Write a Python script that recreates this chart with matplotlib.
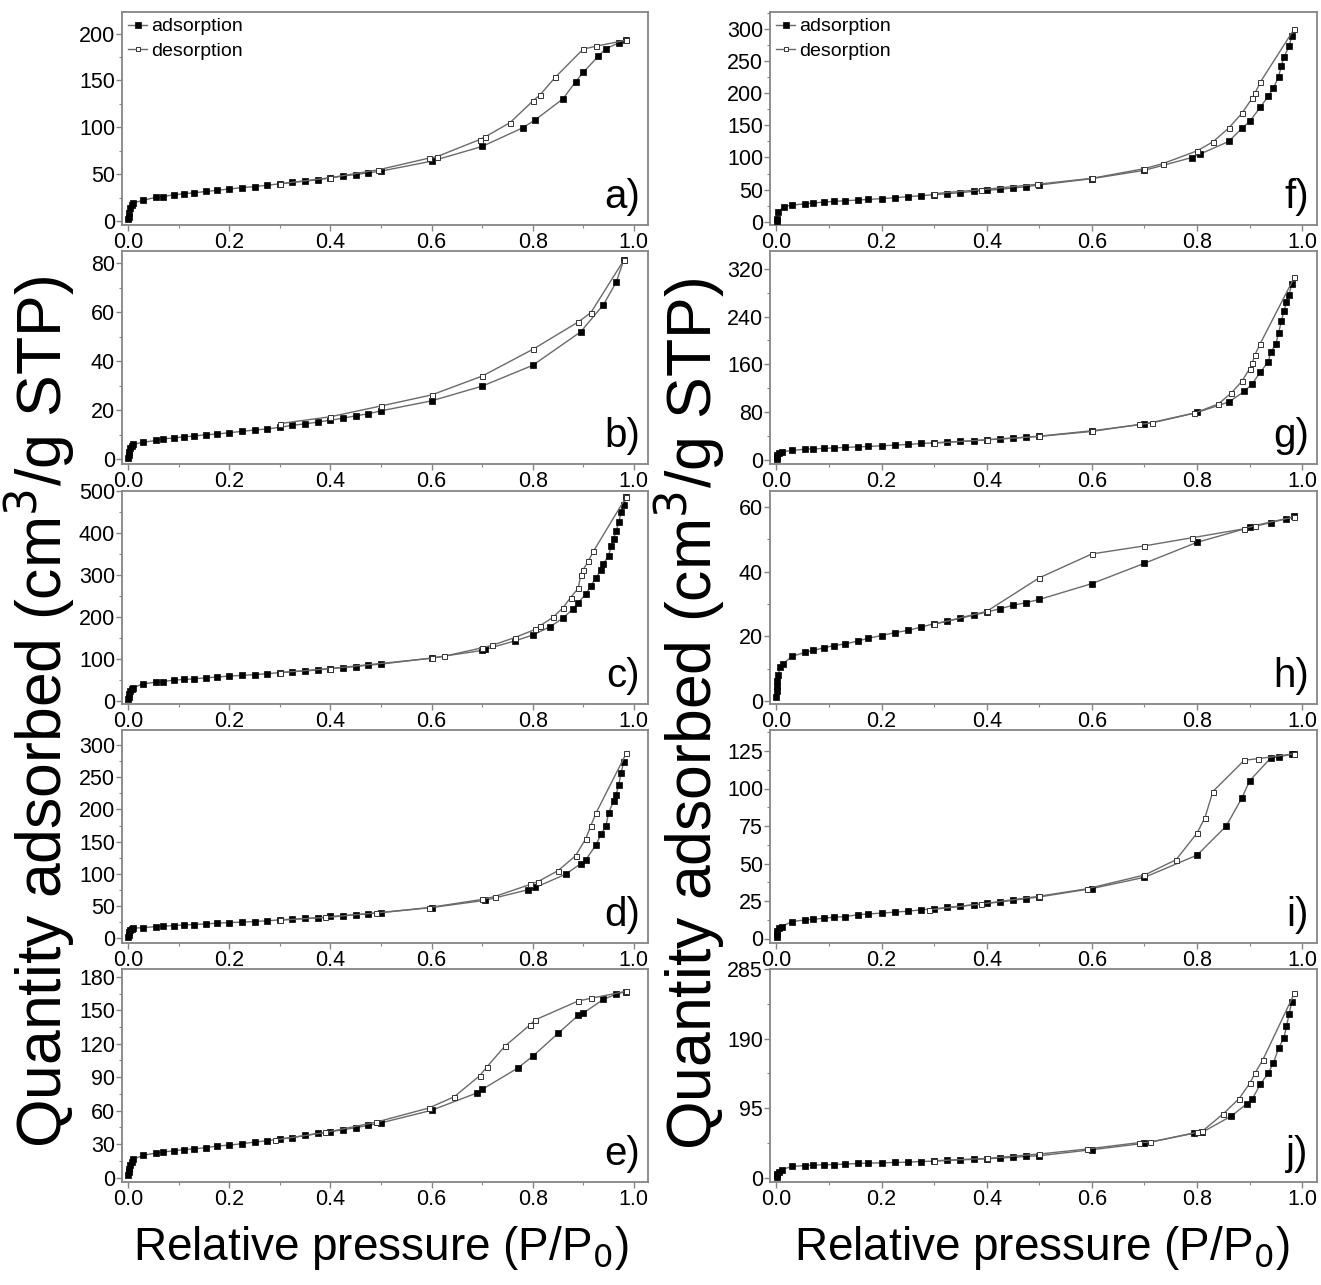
import numpy as np
import matplotlib
matplotlib.use("Agg")
import matplotlib.pyplot as plt
from matplotlib.ticker import MultipleLocator, AutoMinorLocator

plt.rcParams['font.family'] = ['Liberation Sans', 'DejaVu Sans']

# common relative pressure points of the adsorption branch (0.03 .. 0.5)
p_mid = [0.03, 0.055, 0.07, 0.09, 0.11, 0.13, 0.155, 0.175, 0.2, 0.225, 0.25, 0.275,
         0.3, 0.325, 0.35, 0.375, 0.4, 0.425, 0.45, 0.475, 0.5]
p_low = [0.0005, 0.001, 0.002, 0.004, 0.007, 0.01]

# ---- panel a
a_ads_p = p_low + p_mid + [0.6, 0.7, 0.78, 0.805, 0.86, 0.885, 0.9, 0.93, 0.945, 0.97, 0.985]
a_ads_q = [2, 5, 9, 14, 17.5, 19.5,
           22.3, 25.6, 26.3, 28.2, 29.3, 30.3, 31.8, 32.9, 34.4, 35.8, 36.9, 38.4,
           39.9, 41.3, 42.8, 44.2, 46.1, 48.3, 49.7, 51.6, 53.4,
           64, 79.7, 99.5, 108, 130.5, 148.8, 158.7, 176, 184, 190, 193]
a_des_p = [0.985, 0.925, 0.9, 0.845, 0.815, 0.8, 0.755, 0.705, 0.695, 0.61, 0.595, 0.495, 0.4, 0.3]
a_des_q = [193, 186.5, 183.5, 153.6, 135, 128, 105, 89.6, 87, 68.7, 67.3, 54.8, 46.4, 39.9]

# ---- panel b
b_ads_p = p_low + p_mid + [0.6, 0.7, 0.8, 0.895, 0.94, 0.965, 0.98]
b_ads_q = [0.5, 1.5, 3, 4.5, 5.5, 6,
           6.9, 7.6, 8.3, 8.6, 9.1, 9.4, 10, 10.2, 10.8, 11.3, 11.9, 12.3,
           13, 13.8, 14.4, 15.1, 15.9, 16.7, 17.7, 18.5, 19.7,
           23.8, 29.8, 38.3, 52, 63.1, 72.2, 81.2]
b_des_p = [0.98, 0.915, 0.89, 0.8, 0.7, 0.6, 0.5, 0.4, 0.3]
b_des_q = [81.2, 59.8, 56, 44.8, 33.9, 26.2, 21.7, 17.3, 14.5]

# ---- panel c
c_ads_p = p_low + p_mid + [0.6, 0.7, 0.705, 0.765, 0.8, 0.835, 0.86, 0.88, 0.89, 0.905, 0.915,
                           0.925, 0.935, 0.94, 0.95, 0.955, 0.96, 0.965, 0.97, 0.975, 0.98, 0.985]
c_ads_q = [3, 8, 15, 22, 28, 31,
           40, 44, 45.6, 48.9, 50.5, 52, 54.6, 56.2, 58.6, 60.3, 61.9, 64.3,
           66.8, 69.2, 70.8, 73.3, 76.5, 79, 81.4, 84.7, 87.1,
           101.8, 119.7, 122, 142.5, 156.4, 176.7, 197, 219, 233.7, 254, 274,
           293, 311, 327, 345, 368, 386, 405, 425, 450, 467, 486]
c_des_p = [0.985, 0.92, 0.91, 0.9, 0.895, 0.89, 0.875, 0.86, 0.84, 0.815, 0.805, 0.765,
           0.72, 0.7, 0.625, 0.6, 0.4, 0.3]
c_des_q = [486, 356, 333, 312.7, 299, 268, 246, 221.5, 198.7, 179, 170, 150.6,
           132, 126, 105.9, 101, 76.5, 66.8]

# ---- panel d
d_ads_p = p_low + p_mid + [0.6, 0.705, 0.79, 0.805, 0.865, 0.895, 0.905, 0.925, 0.935, 0.945,
                           0.95, 0.96, 0.965, 0.97, 0.975, 0.98]
d_ads_q = [2, 6, 10, 13, 15, 16,
           16.8, 18.4, 19, 20, 21, 21.6, 22.6, 23.7, 24.7, 25.3, 26.3, 27.4,
           28.9, 30, 31, 32, 34.2, 35.3, 36.8, 38.4, 40,
           47.9, 59, 75.3, 79, 99.5, 115.8, 122, 144.7, 161.6, 174.7,
           194.7, 212.6, 223, 238, 257, 273.7]
d_des_p = [0.985, 0.925, 0.915, 0.905, 0.885, 0.85, 0.81, 0.795, 0.725, 0.7, 0.595, 0.49, 0.39, 0.3]
d_des_q = [286.8, 194, 174.7, 154.7, 128.4, 105, 88, 83.7, 65, 60.5, 47.9, 39.5, 32.6, 28.4]

# ---- panel e
e_ads_p = p_low + p_mid + [0.6, 0.69, 0.7, 0.77, 0.8, 0.85, 0.89, 0.9, 0.94, 0.965, 0.985]
e_ads_q = [2, 5, 8, 11, 14, 16.5,
           19.9, 22, 23, 23.9, 25.1, 25.7, 26.9, 28.2, 29.1, 30.3, 31.8, 33,
           34.6, 35.8, 37.7, 39.5, 41, 42.9, 44.7, 46.8, 49,
           60.3, 75.9, 79, 98, 108.7, 129.2, 145.4, 147.5, 159.8, 164.4, 166.8]
e_des_p = [0.985, 0.915, 0.89, 0.805, 0.795, 0.745, 0.71, 0.695, 0.645, 0.595, 0.49, 0.39, 0.29]
e_des_q = [167, 160.7, 158.3, 141.4, 137, 117.8, 99.5, 91.2, 72.5, 62.4, 49.6, 40.4, 33.7]

# ---- panel f
f_ads_p = [0.0005, 0.001, 0.003, 0.015] + p_mid + [0.6, 0.7, 0.79, 0.805, 0.86, 0.885, 0.9, 0.92,
                                                    0.935, 0.945, 0.955, 0.96, 0.965, 0.975, 0.98]
f_ads_q = [1, 5, 15, 23.5,
           26, 28, 29.1, 30.7, 31.7, 32.7, 33.8, 34.8, 35.9, 37.4, 39, 40.5,
           42.1, 43.7, 45.2, 47.3, 48.9, 50.4, 52.5, 54.6, 57.2,
           67, 80, 99.8, 105, 124.8, 145, 156, 177.8,
           195, 207.4, 225.6, 241.7, 255.7, 272.9, 288.5]
f_des_p = [0.985, 0.92, 0.91, 0.905, 0.885, 0.86, 0.83, 0.8, 0.735, 0.7, 0.6, 0.495, 0.39, 0.3]
f_des_q = [300, 216.7, 199.6, 192.3, 168.4, 145.5, 124.2, 110.2, 90.4, 82.6, 67.6, 58.2, 49.9, 43.7]

# ---- panel g
g_ads_p = [0.0005, 0.001, 0.002, 0.005, 0.01] + p_mid + [0.6, 0.7, 0.8, 0.86, 0.89, 0.905, 0.92,
                                                         0.935, 0.94, 0.95, 0.955, 0.96, 0.965,
                                                         0.97, 0.975, 0.98]
g_ads_q = [1, 4, 8, 11, 13.5,
           15.7, 17.9, 18.5, 19, 20.1, 20.7, 21.8, 22.4, 23.5, 24.6, 25.7, 27.4,
           28.5, 29.7, 30.8, 31.9, 33.6, 35.2, 36.4, 38, 39.7,
           48.7, 59.9, 79.4, 96.8, 114.7, 127.6, 146.6,
           164, 180, 194.7, 212.6, 232, 249, 264, 277, 294.8]
g_des_p = [0.985, 0.92, 0.91, 0.905, 0.9, 0.885, 0.865, 0.84, 0.795, 0.715, 0.69, 0.6, 0.5, 0.4, 0.3]
g_des_q = [306, 194.7, 176, 162, 152.7, 131.5, 111.9, 93.4, 78.3, 62, 59.3, 47.6, 39.2, 33.6, 28]

# ---- panel h
h_ads_p = [0.0002, 0.0005, 0.001, 0.002, 0.004, 0.007, 0.012] + p_mid + [0.6, 0.7, 0.8, 0.9,
                                                                       0.94, 0.97, 0.985]
h_ads_q = [1.3, 3, 4.7, 6.2, 8, 10.4, 11.3,
           13.8, 15, 15.6, 16.4, 17.1, 17.6, 18.5, 19.4, 20.2, 21.1, 21.8, 22.8,
           23.9, 24.6, 25.6, 26.5, 27.5, 28.5, 29.6, 30.4, 31.4,
           36.3, 42.6, 49.1, 53.7, 55.2, 56.4, 57.1]
h_des_p = [0.985, 0.91, 0.89, 0.79, 0.7, 0.6, 0.5, 0.4, 0.3]
h_des_q = [57, 54.3, 53.3, 50.5, 48, 45.5, 38.1, 27.7, 23.7]

# ---- panel i
i_ads_p = [0.0005, 0.001, 0.002, 0.005, 0.01] + p_mid + [0.6, 0.7, 0.8, 0.855, 0.885, 0.9,
                                                         0.94, 0.955, 0.98, 0.985]
i_ads_q = [1, 3, 5, 7, 8,
           11.3, 12.4, 12.8, 13.5, 14.2, 14.6, 15.8, 16.4, 16.9, 17.6, 18.2, 19.1,
           19.8, 20.7, 21.6, 22.5, 23.4, 24.3, 25.5, 26.6, 27.7,
           33.3, 40.8, 55.6, 74.8, 93.5, 105.2, 120.3, 121.2, 122.7, 123.2]
i_des_p = [0.985, 0.915, 0.89, 0.83, 0.815, 0.8, 0.76, 0.7, 0.59, 0.5, 0.39, 0.29]
i_des_q = [123.2, 119.8, 118.9, 98, 80.6, 70.3, 52.5, 42.3, 33.1, 28.2, 23, 19.1]

# ---- panel j
j_ads_p = [0.0005, 0.001, 0.002, 0.005, 0.01] + p_mid + [0.6, 0.7, 0.795, 0.81, 0.865, 0.895,
                                                         0.905, 0.92, 0.935, 0.945, 0.955,
                                                         0.965, 0.97, 0.975, 0.98]
j_ads_q = [1, 3, 5.5, 8, 11,
           15.2, 16.5, 17, 17.5, 17.9, 18.4, 19.3, 19.8, 20.2, 20.7, 21.1, 22,
           22.5, 23.4, 24.4, 24.8, 25.7, 26.7, 27.6, 29, 29.9,
           38.1, 46.9, 60.7, 62, 84.1, 101, 107.5, 127.3, 142.5, 156.3, 177,
           190.7, 206.8, 223.8, 240.3]
j_des_p = [0.985, 0.925, 0.91, 0.9, 0.88, 0.85, 0.81, 0.8, 0.71, 0.69, 0.59, 0.5, 0.4, 0.3]
j_des_q = [251.8, 160.8, 142.5, 128.7, 108, 87.3, 63.4, 62, 48.3, 47.8, 39, 32.2, 26.2, 23]

panels = [
    # label, ads, des, ylim, major step, column, row
    ('a)', a_ads_p, a_ads_q, a_des_p, a_des_q, (-4, 223), 50, 0, 0),
    ('b)', b_ads_p, b_ads_q, b_des_p, b_des_q, (-2, 85), 20, 0, 1),
    ('c)', c_ads_p, c_ads_q, c_des_p, c_des_q, (-8, 500), 100, 0, 2),
    ('d)', d_ads_p, d_ads_q, d_des_p, d_des_q, (-7, 323), 50, 0, 3),
    ('e)', e_ads_p, e_ads_q, e_des_p, e_des_q, (-4, 187), 30, 0, 4),
    ('f)', f_ads_p, f_ads_q, f_des_p, f_des_q, (-5, 326), 50, 1, 0),
    ('g)', g_ads_p, g_ads_q, g_des_p, g_des_q, (-7, 350), 80, 1, 1),
    ('h)', h_ads_p, h_ads_q, h_des_p, h_des_q, (-1, 65), 20, 1, 2),
    ('i)', i_ads_p, i_ads_q, i_des_p, i_des_q, (-3, 139), 25, 1, 3),
    ('j)', j_ads_p, j_ads_q, j_des_p, j_des_q, (-6, 285), 95, 1, 4),
]

W, H = 1321, 1285
fig = plt.figure(figsize=(W / 100, H / 100), dpi=100)

col_left = [122, 770]
col_width = [526, 547]
row_top = [12, 251, 491, 730, 969]
row_h = 213
frame_col = '#858585'
line_col = '#6a6a6a'

for lab, ap, aq, dp, dq, ylim, step, col, row in panels:
    ax = fig.add_axes([col_left[col] / W, 1 - (row_top[row] + row_h) / H,
                       col_width[col] / W, row_h / H])
    ax.plot(ap, aq, '-', color=line_col, lw=1.0, marker='s', ms=4.2,
            mfc='black', mec='black', mew=0.5, label='adsorption', zorder=3)
    ax.plot(dp, dq, '-', color=line_col, lw=1.0, marker='s', ms=3.6,
            mfc='white', mec='#333333', mew=0.7, label='desorption', zorder=4)
    ax.set_xlim(-0.012, 1.028)
    ax.set_ylim(*ylim)
    ax.xaxis.set_major_locator(MultipleLocator(0.2))
    ax.xaxis.set_minor_locator(MultipleLocator(0.1))
    ax.yaxis.set_major_locator(MultipleLocator(step))
    ax.yaxis.set_minor_locator(AutoMinorLocator(2))
    ax.xaxis.set_major_formatter(matplotlib.ticker.FormatStrFormatter('%.1f'))
    ax.tick_params(which='major', direction='out', length=4, width=1, color=frame_col,
                   labelsize=15.5, pad=1)
    ax.tick_params(which='minor', direction='out', length=2.5, width=0.8, color=frame_col)
    for sp in ax.spines.values():
        sp.set_color(frame_col)
        sp.set_linewidth(1.3)
    ax.text(0.985, 0.04, lab, transform=ax.transAxes, ha='right', va='bottom', fontsize=29)
    if row == 0:
        ax.legend(loc='upper left', frameon=False, fontsize=14, handlelength=1.0,
                  handletextpad=0.2, borderaxespad=0.1, borderpad=0.2, labelspacing=0.35,
                  markerscale=0.9)

ylab = 'Quantity adsorbed (cm$^3$/g STP)'
fig.text(40 / W, 1 - 712 / H, ylab, rotation=90, ha='center', va='center', fontsize=45)
fig.text(690 / W, 1 - 714 / H, ylab, rotation=90, ha='center', va='center', fontsize=45)
xlab = 'Relative pressure (P/P$_0$)'
fig.text(381 / W, 1 - 1248 / H, xlab, ha='center', va='center', fontsize=33)
fig.text(1042 / W, 1 - 1248 / H, xlab, ha='center', va='center', fontsize=33)

fig.savefig('out.png', dpi=100)
